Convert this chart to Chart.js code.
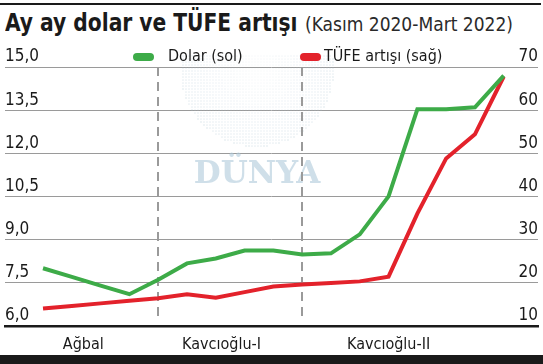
<!DOCTYPE html>
<html lang="tr">
<head>
<meta charset="utf-8">
<script src="https://cdn.jsdelivr.net/npm/chart.js@4.4.1/dist/chart.umd.min.js"></script>
<style>
  html, body { margin: 0; padding: 0; background: #fff; }
  #wrap { position: relative; width: 543px; height: 364px; overflow: hidden;
          font-family: 'DejaVu Sans Condensed', 'Liberation Sans Narrow', sans-serif; color: #1a1a1a; }
  #topRule { position: absolute; left: 0; top: 3px; width: 541px; height: 2px; background: #1a1a1a; z-index: 2; }
  #titleMain { position: absolute; left: 5px; top: 8px; white-space: nowrap; font-size: 25px; font-weight: 700;
               transform: scaleX(0.9); transform-origin: left top; }
  #titleSub { position: absolute; left: 305px; top: 13px; white-space: nowrap; font-size: 19px; font-weight: 400;
              color: #2a2a2a; }
  canvas { position: absolute; left: 0; top: 44px; }
  #bottomRule { position: absolute; left: 0; top: 355px; width: 543px; height: 9px; background: #1a1a1a; z-index: 2; }
</style>
</head>
<body>
<div id="wrap">
  <div id="topRule"></div>
  <div id="titleMain">Ay ay dolar ve TÜFE artışı</div>
  <div id="titleSub">(Kasım 2020-Mart 2022)</div>
  <canvas id="dolarTufeChart" width="543" height="323"></canvas>
  <div id="bottomRule"></div>
</div>
<script>
// --- Veri (resimden okunan yaklaşık değerler) ---
const months = ['Kas 20', 'Ara 20', 'Oca 21', 'Şub 21', 'Mar 21', 'Nis 21', 'May 21', 'Haz 21', 'Tem 21',
                'Ağu 21', 'Eyl 21', 'Eki 21', 'Kas 21', 'Ara 21', 'Oca 22', 'Şub 22', 'Mar 22'];
const dolar = [8.0, 7.7, 7.4, 7.1, 7.6, 8.17, 8.34, 8.62, 8.62, 8.48, 8.52, 9.18, 10.5, 13.53, 13.53, 13.6, 14.7];
const tufe = [14.0, 14.6, 15.2, 15.8, 16.4, 17.3, 16.5, 17.8, 19.1, 19.6, 19.9, 20.3, 21.4, 36.0, 48.8, 54.4, 67.8];
const leftTicks = { min: 6, max: 15, step: 1.5 };
const rightTicks = { min: 10, max: 70, step: 10 };
const periodNames = ['Ağbal', 'Kavcıoğlu-I', 'Kavcıoğlu-II'];
const periodBreaks = [4, 9];          // kesikli çizgilerin geldiği ay indeksleri
const periodLabelAt = [1.4, 6.2, 12.0]; // dönem etiketlerinin ay ekseni üzerindeki yeri

const FONT = "'DejaVu Sans Condensed', 'Liberation Sans Narrow', sans-serif";
const GREEN = '#3dab48';
const RED = '#e3222b';

const toPoints = (arr) => arr.map((v, i) => ({ x: i, y: v }));
const fmtComma = (v) => v.toFixed(1).replace('.', ',');

// filigran: noktalı küre + DÜNYA yazısı
const watermark = {
    id: 'watermark',
    beforeDatasetsDraw(chart) {
        const { ctx, chartArea } = chart;
        ctx.save();
        ctx.beginPath();
        ctx.rect(chartArea.left, chartArea.top - 12, chartArea.width, chartArea.height + 12);
        ctx.clip();
        const cx = 257, cy = 26, r = 77;
        ctx.fillStyle = 'rgba(170, 195, 210, 0.28)';
        for (let y = cy - r; y <= cy + r; y += 3) {
            for (let x = cx - r; x <= cx + r; x += 3) {
                const d = Math.hypot(x - cx, y - cy);
                if (d < r) {
                    ctx.beginPath();
                    ctx.arc(x, y, 0.8 * (0.5 + d / r * 0.6), 0, Math.PI * 2);
                    ctx.fill();
                }
            }
        }
        ctx.font = "bold 31px 'DejaVu Serif', 'Liberation Serif', serif";
        ctx.fillStyle = 'rgba(175, 202, 218, 0.6)';
        ctx.textAlign = 'center';
        ctx.textBaseline = 'alphabetic';
        ctx.fillText('DÜNYA', 257, 139);
        ctx.restore();
    }
};

// dönem ayırıcı kesikli çizgiler
const periodLines = {
    id: 'periodLines',
    beforeDatasetsDraw(chart) {
        const { ctx, chartArea, scales } = chart;
        ctx.save();
        ctx.strokeStyle = '#9a9a9a';
        ctx.lineWidth = 2;
        ctx.setLineDash([9, 6]);
        periodBreaks.forEach(idx => {
            const x = Math.round(scales.x.getPixelForValue(idx));
            ctx.beginPath();
            ctx.moveTo(x, chartArea.top);
            ctx.lineTo(x, chartArea.bottom - 6);
            ctx.stroke();
        });
        ctx.restore();
    }
};

// üstteki açıklama (legend)
const topLegend = {
    id: 'topLegend',
    afterDraw(chart) {
        const { ctx } = chart;
        const spots = [{ box: 133, text: 168 }, { box: 300, text: 324 }];
        ctx.save();
        ctx.font = '16px ' + FONT;
        ctx.textBaseline = 'middle';
        chart.data.datasets.forEach((ds, i) => {
            const s = spots[i];
            ctx.fillStyle = ds.borderColor;
            ctx.beginPath();
            ctx.roundRect(s.box, 9, 21, 8, 4);
            ctx.fill();
            ctx.fillStyle = '#1a1a1a';
            ctx.fillText(ds.label, s.text, 13);
        });
        ctx.restore();
    }
};

const ctx = document.getElementById('dolarTufeChart').getContext('2d');
new Chart(ctx, {
    type: 'line',
    data: {
        labels: months,
        datasets: [
            {
                label: 'Dolar (sol)',
                data: toPoints(dolar),
                yAxisID: 'y',
                borderColor: GREEN,
                borderWidth: 4,
                pointRadius: 0,
                tension: 0,
                borderJoinStyle: 'miter'
            },
            {
                label: 'TÜFE artışı (sağ)',
                data: toPoints(tufe),
                yAxisID: 'y1',
                borderColor: RED,
                borderWidth: 4,
                pointRadius: 0,
                tension: 0,
                borderJoinStyle: 'miter'
            }
        ]
    },
    options: {
        responsive: false,
        devicePixelRatio: 1,
        animation: false,
        layout: { padding: { left: 5, right: 5, top: 23, bottom: 4 } },
        plugins: {
            legend: { display: false },
            tooltip: { enabled: false }
        },
        scales: {
            x: {
                type: 'linear',
                min: -1.32,
                max: 17.19,
                grid: { display: false, drawTicks: false },
                border: { display: true, color: '#1a1a1a', width: 2.5 },
                afterBuildTicks: (axis) => { axis.ticks = periodLabelAt.map(v => ({ value: v })); },
                ticks: {
                    callback: (v, i) => periodNames[i],
                    font: { family: FONT, size: 16 },
                    color: '#1a1a1a',
                    padding: 9,
                    maxRotation: 0,
                    autoSkip: false
                }
            },
            y: {
                position: 'left',
                min: leftTicks.min,
                max: leftTicks.max,
                grid: { color: '#9a9a9a', lineWidth: 1, drawTicks: false },
                border: { display: false },
                ticks: {
                    stepSize: leftTicks.step,
                    mirror: true,
                    padding: 0,
                    labelOffset: -10,
                    font: { family: FONT, size: 17 },
                    color: '#1a1a1a',
                    callback: (v) => fmtComma(v)
                }
            },
            y1: {
                position: 'right',
                min: rightTicks.min,
                max: rightTicks.max,
                grid: { display: false, drawTicks: false },
                border: { display: false },
                ticks: {
                    stepSize: rightTicks.step,
                    mirror: true,
                    padding: 0,
                    labelOffset: -10,
                    font: { family: FONT, size: 17 },
                    color: '#1a1a1a'
                }
            }
        }
    },
    plugins: [watermark, periodLines, topLegend]
});
</script>
</body>
</html>
